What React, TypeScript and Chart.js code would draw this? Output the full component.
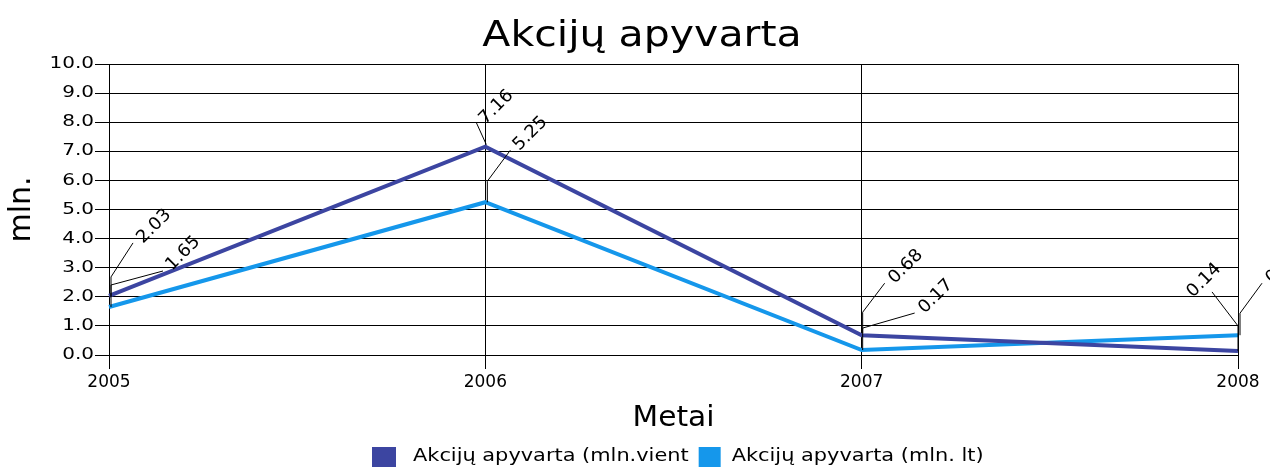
import React, { useEffect, useRef } from 'react';
import { Chart, registerables } from 'chart.js';

Chart.register(...registerables);

// ---------- data ----------
const TITLE = 'Akcijų apyvarta';
const X_TITLE = 'Metai';
const Y_TITLE = 'mln.';
const YEARS = ['2005', '2006', '2007', '2008'];
const UNITS_NAME = 'Akcijų apyvarta (mln.vient';
const LT_NAME = 'Akcijų apyvarta (mln. lt)';
const UNITS_VALUES = [2.03, 7.16, 0.68, 0.14];
const LT_VALUES = [1.65, 5.25, 0.17, 0.68];
const Y_TICK_VALUES = [0, 1, 2, 3, 4, 5, 6, 7, 8, 9, 10];
const Y_TICK_LABELS = ['0.0', '1.0', '2.0', '3.0', '4.0', '5.0', '6.0', '7.0', '8.0', '9.0', '10.0'];

// ---------- style / layout ----------
const FONT = '"DejaVu Sans", Verdana, sans-serif';
const COLORS = ['#3c45a1', '#1597eb'];
const FS = { title: 36, yTick: 16, xTick: 17, xTitle: 28, yTitle: 30, legend: 18, value: 17.5 };
// horizontal glyph stretch by font size
const STRETCH: Record<number, number> = { 36: 1.14, 16: 1.25, 17: 1.0, 28: 1.06, 30: 1.0, 18: 1.16, 17.5: 1.04 };

// leader lines (offsets from the data point) and label anchor offsets
const LABEL_LAYOUT = [
  [
    { path: [[2, 1], [2, -19], [24, -53]], text: [34, -52] },
    { path: [[1, -2], [-9, -24]], text: [0, -22] },
    { path: [[1, -2], [1, -23], [23, -52]], text: [33, -51] },
    { path: [[0, 0], [0, -25], [-26, -59]], text: [-45, -53] },
  ],
  [
    { path: [[2, 0], [2, -22], [54, -36]], text: [63, -36] },
    { path: [[2, 0], [2, -21], [25, -52]], text: [34, -51] },
    { path: [[1, 0], [1, -22], [53, -37]], text: [63, -36] },
    { path: [[2, 0], [2, -22], [24, -52]], text: [34, -51] },
  ],
];
const LEGEND = { left: 372, boxTop: 447, boxW: [24, 22], boxH: 20, textGap: [41, 33], itemGap: 10, baseline: 461 };

function patchContext(ctx: any) {
  if (ctx.__stretchPatched) return;
  ctx.__stretchPatched = true;
  const stretchFor = () => {
    const m = /(\d+(?:\.\d+)?)px/.exec(ctx.font);
    const s = m ? STRETCH[parseFloat(m[1])] : 1;
    return s || 1;
  };
  const fill = ctx.fillText.bind(ctx);
  const measure = ctx.measureText.bind(ctx);
  ctx.fillText = (t: string, x: number, y: number, mw?: number) => {
    const sx = stretchFor();
    if (sx === 1) {
      if (mw === undefined) fill(t, x, y);
      else fill(t, x, y, mw);
      return;
    }
    ctx.save();
    ctx.translate(x, y);
    ctx.scale(sx, 1);
    fill(t, 0, 0);
    ctx.restore();
  };
  ctx.measureText = (t: string) => {
    const r = measure(t);
    const sx = stretchFor();
    if (sx === 1) return r;
    return {
      width: r.width * sx,
      actualBoundingBoxLeft: r.actualBoundingBoxLeft * sx,
      actualBoundingBoxRight: r.actualBoundingBoxRight * sx,
      actualBoundingBoxAscent: r.actualBoundingBoxAscent,
      actualBoundingBoxDescent: r.actualBoundingBoxDescent,
      fontBoundingBoxAscent: r.fontBoundingBoxAscent,
      fontBoundingBoxDescent: r.fontBoundingBoxDescent,
    };
  };
}

const valueLabelsPlugin = {
  id: 'valueLabels',
  afterDatasetsDraw(chart: any) {
    const ctx = chart.ctx;
    ctx.save();
    ctx.font = `${FS.value}px ${FONT}`;
    ctx.fillStyle = '#000';
    ctx.strokeStyle = '#000';
    ctx.lineWidth = 1;
    ctx.textAlign = 'left';
    ctx.textBaseline = 'alphabetic';
    chart.data.datasets.forEach((ds: any, di: number) => {
      const meta = chart.getDatasetMeta(di);
      meta.data.forEach((pt: any, j: number) => {
        const L = LABEL_LAYOUT[di][j];
        ctx.beginPath();
        L.path.forEach(([dx, dy]: number[], k: number) => {
          if (k === 0) ctx.moveTo(pt.x + dx, pt.y + dy);
          else ctx.lineTo(pt.x + dx, pt.y + dy);
        });
        ctx.stroke();
        ctx.save();
        ctx.translate(pt.x + L.text[0], pt.y + L.text[1]);
        ctx.rotate(-Math.PI / 4);
        ctx.fillText(Number(ds.data[j]).toFixed(2), 0, 0);
        ctx.restore();
      });
    });
    ctx.restore();
  },
};

const legendPlugin = {
  id: 'bottomLegend',
  afterDraw(chart: any) {
    const ctx = chart.ctx;
    ctx.save();
    ctx.font = `${FS.legend}px ${FONT}`;
    ctx.textAlign = 'left';
    ctx.textBaseline = 'alphabetic';
    let x = LEGEND.left;
    chart.data.datasets.forEach((ds: any, i: number) => {
      ctx.fillStyle = ds.borderColor;
      ctx.fillRect(x, LEGEND.boxTop, LEGEND.boxW[i], LEGEND.boxH);
      ctx.fillStyle = '#000';
      ctx.fillText(ds.label, x + LEGEND.textGap[i], LEGEND.baseline);
      x += LEGEND.textGap[i] + ctx.measureText(ds.label).width + LEGEND.itemGap;
    });
    ctx.restore();
  },
};

export default function App() {
  const ref = useRef<HTMLCanvasElement | null>(null);

  useEffect(() => {
    const canvas = ref.current!;
    const ctx = canvas.getContext('2d');
    patchContext(ctx);
    const chart = new Chart(canvas, {
      type: 'line',
      data: {
        labels: YEARS,
        datasets: [
          {
            label: UNITS_NAME,
            data: UNITS_VALUES,
            borderColor: COLORS[0],
            backgroundColor: COLORS[0],
            borderWidth: 4,
            pointRadius: 0,
            tension: 0,
            fill: false,
          },
          {
            label: LT_NAME,
            data: LT_VALUES,
            borderColor: COLORS[1],
            backgroundColor: COLORS[1],
            borderWidth: 4,
            pointRadius: 0,
            tension: 0,
            fill: false,
          },
        ],
      },
      options: {
        animation: false,
        responsive: true,
        maintainAspectRatio: false,
        layout: { padding: { left: 14, right: 0, top: 0, bottom: 30 } },
        font: { family: FONT },
        plugins: {
          legend: { display: false },
          tooltip: { enabled: false },
          title: {
            display: true,
            text: TITLE,
            color: '#000',
            font: { family: FONT, size: FS.title, weight: 'normal' },
            padding: { top: 15, bottom: 5.8 },
          },
        },
        scales: {
          x: {
            type: 'category',
            offset: false,
            grid: { color: '#000', lineWidth: 1, tickLength: 14, drawTicks: true, tickColor: '#000' },
            border: { display: true, color: '#000', width: 1 },
            ticks: {
              color: '#000',
              font: { family: FONT, size: FS.xTick },
              padding: 3,
              maxRotation: 0,
              autoSkip: false,
            },
            title: {
              display: true,
              text: X_TITLE,
              color: '#000',
              font: { family: FONT, size: FS.xTitle },
              padding: { top: 9.8, bottom: 1.2 },
            },
            afterFit: (scale: any) => {
              scale.height = 82;
            },
          },
          y: {
            min: 0,
            max: 10,
            grid: { color: '#000', lineWidth: 1, tickLength: 14, drawTicks: true, tickColor: '#000' },
            border: { display: true, color: '#000', width: 1 },
            ticks: {
              stepSize: 1,
              color: '#000',
              font: { family: FONT, size: FS.yTick },
              padding: 1,
              callback: (v: any) => {
                const i = Y_TICK_VALUES.indexOf(Number(v));
                return i >= 0 ? Y_TICK_LABELS[i] : '';
              },
            },
            title: {
              display: true,
              text: Y_TITLE,
              color: '#000',
              font: { family: FONT, size: FS.yTitle },
              padding: { top: -10, bottom: 0 },
            },
            afterFit: (scale: any) => {
              scale.width = 95;
            },
          },
          spacer: {
            type: 'linear',
            position: 'right',
            display: true,
            grid: { display: false, drawTicks: false },
            border: { display: false },
            ticks: { display: false },
            title: { display: false },
            afterFit: (scale: any) => {
              scale.width = 32;
            },
          },
        },
      },
      plugins: [valueLabelsPlugin, legendPlugin],
    } as any);
    return () => chart.destroy();
  }, []);

  return (
    <div style={{ position: 'fixed', left: 0, top: 0, width: 1270, height: 467, background: '#fff' }}>
      <canvas ref={ref} />
    </div>
  );
}
